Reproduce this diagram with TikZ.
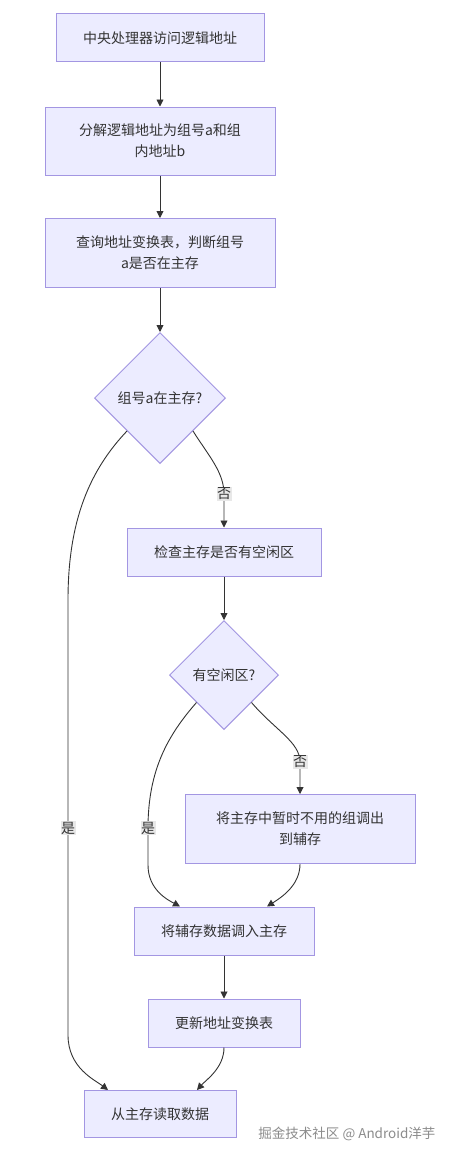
\documentclass[tikz,border=0pt]{standalone}
\usepackage{fontspec}
\newfontfamily\cjkfont{Noto Sans CJK SC}
\usetikzlibrary{shapes.geometric,arrows.meta}
\definecolor{boxfill}{HTML}{ECECFF}
\definecolor{boxline}{HTML}{A396E2}
\definecolor{edgeline}{HTML}{333333}
\definecolor{labelbg}{HTML}{E8E8E8}
\definecolor{markgray}{HTML}{8C8C8C}
\begin{document}
\begin{tikzpicture}[x=1pt,y=-1pt,
  font=\cjkfont\fontsize{14}{21}\selectfont,
  proc/.style={draw=boxline,fill=boxfill,line width=1pt,text=edgeline,align=center,inner sep=0pt},
  query/.style={diamond,draw=boxline,fill=boxfill,line width=1pt,text=edgeline,inner sep=0pt,minimum width=#1,minimum height=#1},
  flow/.style={draw=edgeline,line width=0.9pt,-{Triangle[length=7pt,width=7pt]}},
  tag/.style={fill=labelbg,text=edgeline,inner sep=0.5pt}]
\useasboundingbox (0,0) rectangle (452,1156);
\fill[white] (0,0) rectangle (452,1156);

\node[proc,minimum width=208,minimum height=48] (access) at (160,38) {中央处理器访问逻辑地址};
\node[proc,minimum width=230,minimum height=68] (split) at (160,141) {分解逻辑地址为组号a和组\\内地址b};
\node[proc,minimum width=230,minimum height=69] (lookup) at (160,253) {查询地址变换表，判断组号\\a是否在主存};
\node[query=131] (inmain) at (160,398) {组号a在主存?};
\node[proc,minimum width=194,minimum height=48] (check) at (224,552) {检查主存是否有空闲区};
\node[query=109] (free) at (224,675) {有空闲区?};
\node[proc,minimum width=230,minimum height=69] (swap) at (300,829) {将主存中暂时不用的组调出\\到辅存};
\node[proc,minimum width=180,minimum height=48] (load) at (224,931) {将辅存数据调入主存};
\node[proc,minimum width=152,minimum height=48] (update) at (224,1023) {更新地址变换表};
\node[proc,minimum width=152,minimum height=47] (fetch) at (160,1114) {从主存读取数据};

\draw[flow] (access) -- (split);
\draw[flow] (split) -- (lookup);
\draw[flow] (lookup) -- (inmain);
\draw[flow] (inmain.south east) .. controls (208,455) and (224,472) .. (224,494) node[tag] {否} -- (check.north);
\draw[flow] (inmain.south west) .. controls (90,470) and (68,520) .. (68,600) -- (68,828) node[tag] {是} -- (68,1035) .. controls (68,1068) and (95,1080) .. ([xshift=-52]fetch.north);
\draw[flow] (check) -- (free);
\draw[flow] (free.south east) .. controls (275,730) and (300,742) .. (300,762) node[tag] {否} -- (swap.north);
\draw[flow] (free.south west) .. controls (168,735) and (148,770) .. (148,828) node[tag] {是} -- (148,865) .. controls (148,890) and (168,900) .. ([xshift=-44]load.north);
\draw[flow] (swap.south) .. controls (300,885) and (282,897) .. ([xshift=43]load.north);
\draw[flow] (load) -- (update);
\draw[flow] (update.south) .. controls (224,1068) and (206,1080) .. ([xshift=37]fetch.north);

\node[anchor=east,text=markgray,font=\cjkfont\fontsize{13.5}{13.5}\selectfont] (mark) at (439,1134) {掘金技术社区 @ Android洋芋};
\end{tikzpicture}
\end{document}
